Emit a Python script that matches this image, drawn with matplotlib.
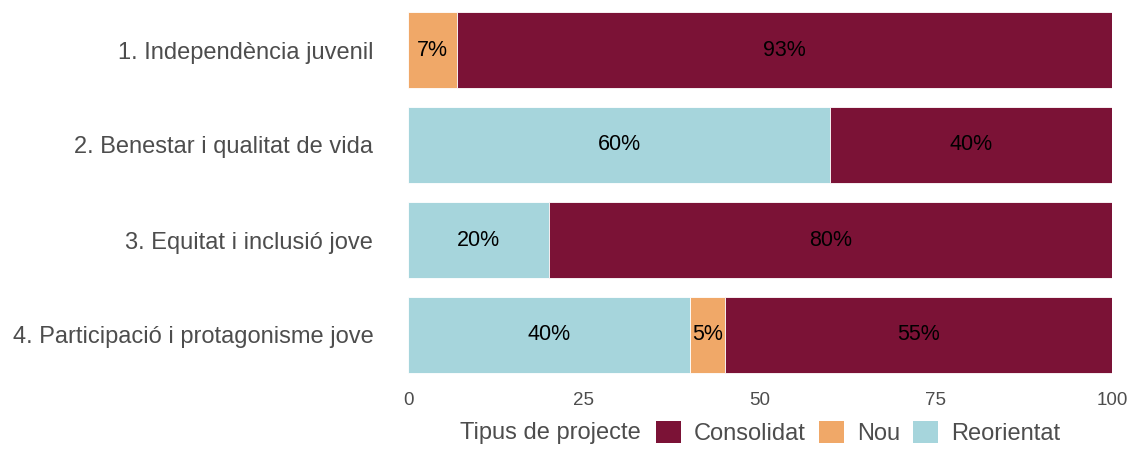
import numpy as np
import matplotlib.pyplot as plt
from matplotlib.patches import Patch

plt.rcParams['font.family'] = ['Liberation Sans', 'DejaVu Sans']

categories = ['1. Independència juvenil', '2. Benestar i qualitat de vida',
              '3. Equitat i inclusió jove', '4. Participació i protagonisme jove']
# stacking order from the left: Reorientat, Nou, Consolidat
reorientat = [0, 60, 20, 40]
nou = [7, 0, 0, 5]
consolidat = [93, 40, 80, 55]
series = [('Reorientat', reorientat, '#a6d5dc'),
          ('Nou', nou, '#f0a868'),
          ('Consolidat', consolidat, '#7b1236')]

fig = plt.figure(figsize=(11.34, 4.5), dpi=100)
ax = fig.add_axes([408/1134, 1 - 382.5/450, 704/1134, 380/450])

y = np.arange(len(categories))
left = np.zeros(len(categories))
for name, vals, col in series:
    vals = np.asarray(vals, dtype=float)
    ax.barh(y, vals, left=left, height=0.8, color=col, edgecolor='white', linewidth=0.6)
    for yi, l, v in zip(y, left, vals):
        if v > 0:
            ax.text(l + v/2, yi, f'{int(v)}%', ha='center', va='center', fontsize=15.5, color='black')
    left += vals

ax.set_xlim(0, 100)
ax.set_ylim(3.5, -0.5)
ax.set_xticks([0, 25, 50, 75, 100])
ax.set_yticks(y)
ax.set_yticklabels(categories)
ax.tick_params(axis='y', length=0, pad=25, labelsize=17, labelcolor='#4d4d4d')
ax.tick_params(axis='x', length=0, pad=7, labelsize=13.5, labelcolor='#4d4d4d')
for s in ax.spines.values():
    s.set_visible(False)

fig.text(641/1134, 1 - 433/450, 'Tipus de projecte', ha='right', va='center', fontsize=17, color='#4d4d4d')
handles = [Patch(facecolor='#7b1236'), Patch(facecolor='#f0a868'), Patch(facecolor='#a6d5dc')]
fig.legend(handles, ['Consolidat', 'Nou', 'Reorientat'], loc='center left',
           bbox_to_anchor=(656/1134, 1 - 433/450), ncol=3, frameon=False, fontsize=17,
           labelcolor='#4d4d4d', handlelength=1.06, handleheight=1.06, handletextpad=0.55,
           columnspacing=0.55, borderaxespad=0, borderpad=0)

fig.savefig('out.png', dpi=100)
